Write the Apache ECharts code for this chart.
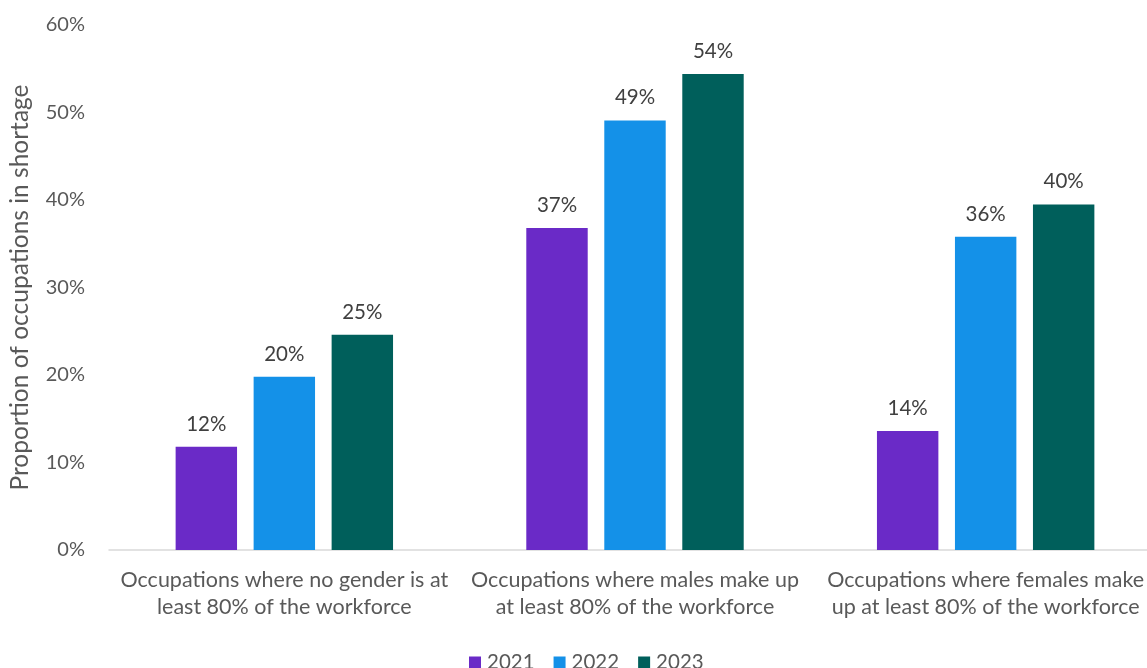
<!DOCTYPE html>
<html>
<head>
<meta charset="utf-8">
<script src="https://cdn.jsdelivr.net/npm/echarts@6/dist/echarts.min.js"></script>
<style>html,body{margin:0;padding:0;background:#fff;overflow:hidden;width:1147px;height:668px;}#c{width:1161px;height:668px;}</style>
</head>
<body>
<div id="c"></div>
<script>
const categories = [
  "Occupations where no gender is at\nleast 80% of the workforce",
  "Occupations where males make up\nat least 80% of the workforce",
  "Occupations where females make\nup at least 80% of the workforce"
];
const years = ["2021", "2022", "2023"];
const values2021 = [11.8, 36.8, 13.6];
const values2022 = [19.8, 49.1, 35.8];
const values2023 = [24.6, 54.4, 39.5];
const yTicks = [0, 10, 20, 30, 40, 50, 60];
const colors = ["#6A2AC7", "#1491E8", "#005F5B"];

const font = "Lato, 'Liberation Sans', sans-serif";
const seriesData = [values2021, values2022, values2023];

const chart = echarts.init(document.getElementById('c'), null, {renderer: 'canvas'});
chart.setOption({
  animation: false,
  textStyle: {fontFamily: font},
  legend: {
    data: years,
    top: 652,
    left: 469,
    padding: 0,
    itemWidth: 12,
    itemHeight: 12,
    itemGap: 19,
    icon: 'rect',
    textStyle: {fontFamily: font, fontSize: 20.5, color: '#595959', padding: [0, 0, 0, 1]}
  },
  grid: {left: 107, right: 0, top: 25, bottom: 118, containLabel: false},
  xAxis: {
    type: 'category',
    data: categories,
    axisLine: {show: true, lineStyle: {color: '#D9D9D9', width: 1.5}},
    axisTick: {show: false},
    axisLabel: {fontFamily: font, fontSize: 21.5, color: '#595959', lineHeight: 27, margin: 17, interval: 0}
  },
  yAxis: {
    type: 'value',
    min: yTicks[0],
    max: yTicks[yTicks.length - 1],
    interval: 10,
    name: 'Proportion of occupations in shortage',
    nameLocation: 'middle',
    nameGap: 76,
    nameTextStyle: {fontFamily: font, fontSize: 24.5, color: '#595959'},
    splitLine: {show: false},
    axisLine: {show: false},
    axisTick: {show: false},
    axisLabel: {fontFamily: font, fontSize: 20, color: '#595959', margin: 24, formatter: v => v + '%'}
  },
  series: years.map((y, i) => ({
    name: y,
    type: 'bar',
    data: seriesData[i],
    barGap: '27%',
    barCategoryGap: '38%',
    itemStyle: {color: colors[i]},
    label: {
      show: true,
      position: 'top',
      distance: 12,
      fontFamily: font,
      fontSize: 20.5,
      color: '#404040',
      formatter: p => Math.round(p.value) + '%'
    }
  }))
});
</script>
</body>
</html>
